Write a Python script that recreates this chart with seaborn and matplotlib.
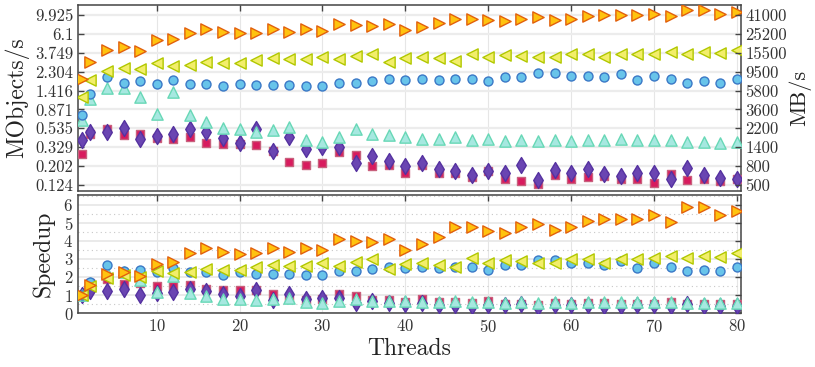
import numpy as np
import pandas as pd
import matplotlib
matplotlib.use("Agg")
import matplotlib.pyplot as plt
from matplotlib.ticker import FixedLocator, NullLocator, MultipleLocator, FixedFormatter
import seaborn as sns

threads = [1, 2, 4, 6, 8, 10, 12, 14, 16, 18, 20, 22, 24, 26, 28, 30, 32, 34, 36, 38, 40,
           42, 44, 46, 48, 50, 52, 54, 56, 58, 60, 62, 64, 66, 68, 70, 72, 74, 76, 78, 80]

orange = [1.90, 2.95, 4.08, 4.33, 3.95, 5.21, 5.40, 6.30, 6.87, 6.41, 6.24,
          6.31, 6.87, 6.41, 6.87, 6.65, 7.81, 7.60, 7.45, 7.81, 6.69,
          7.30, 8.00, 9.05, 9.05, 8.66, 8.48, 9.05, 9.40, 8.79, 9.05,
          9.74, 9.93, 9.93, 9.93, 10.3, 9.60, 11.2, 11.2, 10.3, 10.8]
yellow = [1.21, 1.84, 2.34, 2.55, 2.44, 2.85, 2.67, 2.76, 2.97, 2.89, 2.90,
          3.08, 3.25, 3.17, 3.17, 3.37, 3.17, 3.46, 3.60, 2.93, 3.28,
          3.37, 3.25, 3.06, 3.68, 3.37, 3.53, 3.50, 3.37, 3.37, 3.60,
          3.60, 3.37, 3.60, 3.60, 3.68, 3.84, 3.68, 3.84, 3.75, 4.00]
blue = [0.75, 1.28, 1.99, 1.74, 1.80, 1.69, 1.86, 1.69, 1.69, 1.59, 1.69,
        1.62, 1.62, 1.62, 1.58, 1.58, 1.74, 1.74, 1.83, 1.90, 1.86,
        1.91, 1.86, 1.91, 1.91, 1.80, 2.01, 2.01, 2.22, 2.22, 2.08,
        2.08, 2.00, 2.17, 1.86, 2.08, 1.90, 1.74, 1.81, 1.74, 1.91]
cyan = [0.67, 1.13, 1.53, 1.52, 1.21, 0.77, 1.36, 0.75, 0.63, 0.535, 0.525,
        0.49, 0.51, 0.55, 0.395, 0.38, 0.43, 0.52, 0.46, 0.45, 0.43,
        0.41, 0.41, 0.43, 0.40, 0.41, 0.386, 0.40, 0.386, 0.40, 0.386,
        0.40, 0.40, 0.41, 0.40, 0.40, 0.40, 0.38, 0.38, 0.37, 0.38]
red = [0.277, 0.46, 0.53, 0.45, 0.46, 0.42, 0.41, 0.43, 0.37, 0.355, 0.355,
       0.35, 0.30, 0.226, 0.207, 0.22, 0.29, 0.265, 0.202, 0.207, 0.17,
       0.21, 0.167, 0.167, 0.151, 0.179, 0.143, 0.136, 0.126, 0.159, 0.145,
       0.154, 0.157, 0.143, 0.143, 0.131, 0.163, 0.140, 0.143, 0.137, 0.143]
purple = [0.40, 0.49, 0.49, 0.54, 0.41, 0.44, 0.46, 0.53, 0.49, 0.42, 0.37,
          0.52, 0.30, 0.43, 0.31, 0.33, 0.33, 0.216, 0.26, 0.23, 0.20,
          0.216, 0.185, 0.177, 0.159, 0.179, 0.170, 0.205, 0.140, 0.181, 0.170,
          0.185, 0.163, 0.157, 0.167, 0.170, 0.145, 0.190, 0.159, 0.150, 0.145]

left_ticks = [0.124, 0.202, 0.329, 0.535, 0.871, 1.416, 2.304, 3.749, 6.1, 9.925]
left_labels = ["0.124", "0.202", "0.329", "0.535", "0.871", "1.416", "2.304", "3.749", "6.1", "9.925"]
right_labels = ["500", "800", "1400", "2200", "3600", "5800", "9500", "15500", "25200", "41000"]

# drawing order bottom -> top: red, purple, cyan, blue, yellow, orange
series = [
    ("red", red, "s", "#d81b5e", "#c8607c", 36),
    ("purple", purple, "d", "#6a45b2", "#5532a0", 66),
    ("cyan", cyan, "^", "#a6e8e0", "#68d8b6", 66),
    ("blue", blue, "o", "#68c4ea", "#3a78c6", 42),
    ("yellow", yellow, "<", "#f2ee6a", "#b2c800", 66),
    ("orange", orange, ">", "#ffc30f", "#e2600c", 66),
]

sns.set_theme(style="white")
plt.rcParams["font.family"] = ["cmr10", "DejaVu Serif"]
plt.rcParams["mathtext.fontset"] = "cm"
plt.rcParams["axes.formatter.use_mathtext"] = True

fig = plt.figure(figsize=(8.15, 3.67), dpi=100)
ax1 = fig.add_axes([0.0957, 0.4796, 0.8135, 0.5068])
ax2 = fig.add_axes([0.0957, 0.1471, 0.8135, 0.3215])

spine_col = "#444444"
for ax in (ax1, ax2):
    for sp in ax.spines.values():
        sp.set_color(spine_col)
        sp.set_linewidth(1.1)
    ax.set_xlim(0.5, 80.5)
    ax.xaxis.set_major_locator(FixedLocator([10, 20, 30, 40, 50, 60, 70, 80]))
    ax.tick_params(axis="both", direction="in", length=4, width=1, color=spine_col,
                   top=True, right=True, labelsize=12, labelcolor="#333333")
    ax.grid(True, axis="x", color="#e6e6e6", linewidth=0.8)
    ax.set_axisbelow(True)

# top panel: throughput
for name, vals, mk, fc, ec, s in series:
    df = pd.DataFrame({"Threads": threads, "v": vals})
    sns.scatterplot(data=df, x="Threads", y="v", marker=mk, s=s, color=fc,
                    edgecolor=ec, linewidth=1.0, ax=ax1, zorder=3, legend=False)
ax1.set_yscale("log")
ax1.set_ylim(0.106, 12.9)
ax1.yaxis.set_major_locator(FixedLocator(left_ticks))
ax1.yaxis.set_major_formatter(FixedFormatter(left_labels))
ax1.yaxis.set_minor_locator(NullLocator())
ax1.grid(True, axis="y", color="#ececec", linewidth=1.6)
ax1.tick_params(axis="x", labelbottom=False)
ax1.tick_params(axis="y", right=False)
ax1.set_xlabel("")
ax1.set_ylabel("MObjects/s", fontsize=17, color="#222222", labelpad=4)

axr = ax1.twinx()
axr.set_yscale("log")
axr.set_ylim(ax1.get_ylim())
axr.yaxis.set_major_locator(FixedLocator(left_ticks))
axr.yaxis.set_major_formatter(FixedFormatter(right_labels))
axr.yaxis.set_minor_locator(NullLocator())
axr.tick_params(axis="y", direction="in", length=4, width=1, color=spine_col,
                labelsize=12, labelcolor="#333333", pad=3)
for sp in axr.spines.values():
    sp.set_visible(False)
axr.set_ylabel("MB/s", fontsize=16, color="#222222", labelpad=1)

# bottom panel: speedup relative to one thread
for name, vals, mk, fc, ec, s in series:
    v = np.array(vals)
    df = pd.DataFrame({"Threads": threads, "Speedup": v / v[0]})
    sns.scatterplot(data=df, x="Threads", y="Speedup", marker=mk, s=s, color=fc,
                    edgecolor=ec, linewidth=1.0, ax=ax2, zorder=3, legend=False)
ax2.set_ylim(0, 6.55)
ax2.yaxis.set_major_locator(MultipleLocator(1))
ax2.yaxis.set_minor_locator(MultipleLocator(0.5))
ax2.tick_params(axis="y", which="minor", length=0)
ax2.grid(True, axis="y", which="major", color="#e6e6e6", linewidth=1.2)
ax2.grid(True, axis="y", which="minor", color="#c8c8c8", linewidth=0.8, linestyle=(0, (1, 3)))
ax2.set_xlabel("Threads", fontsize=17, color="#222222", labelpad=2)
ax2.set_ylabel("Speedup", fontsize=17, color="#222222", labelpad=6)

fig.savefig("out.png", dpi=100)
